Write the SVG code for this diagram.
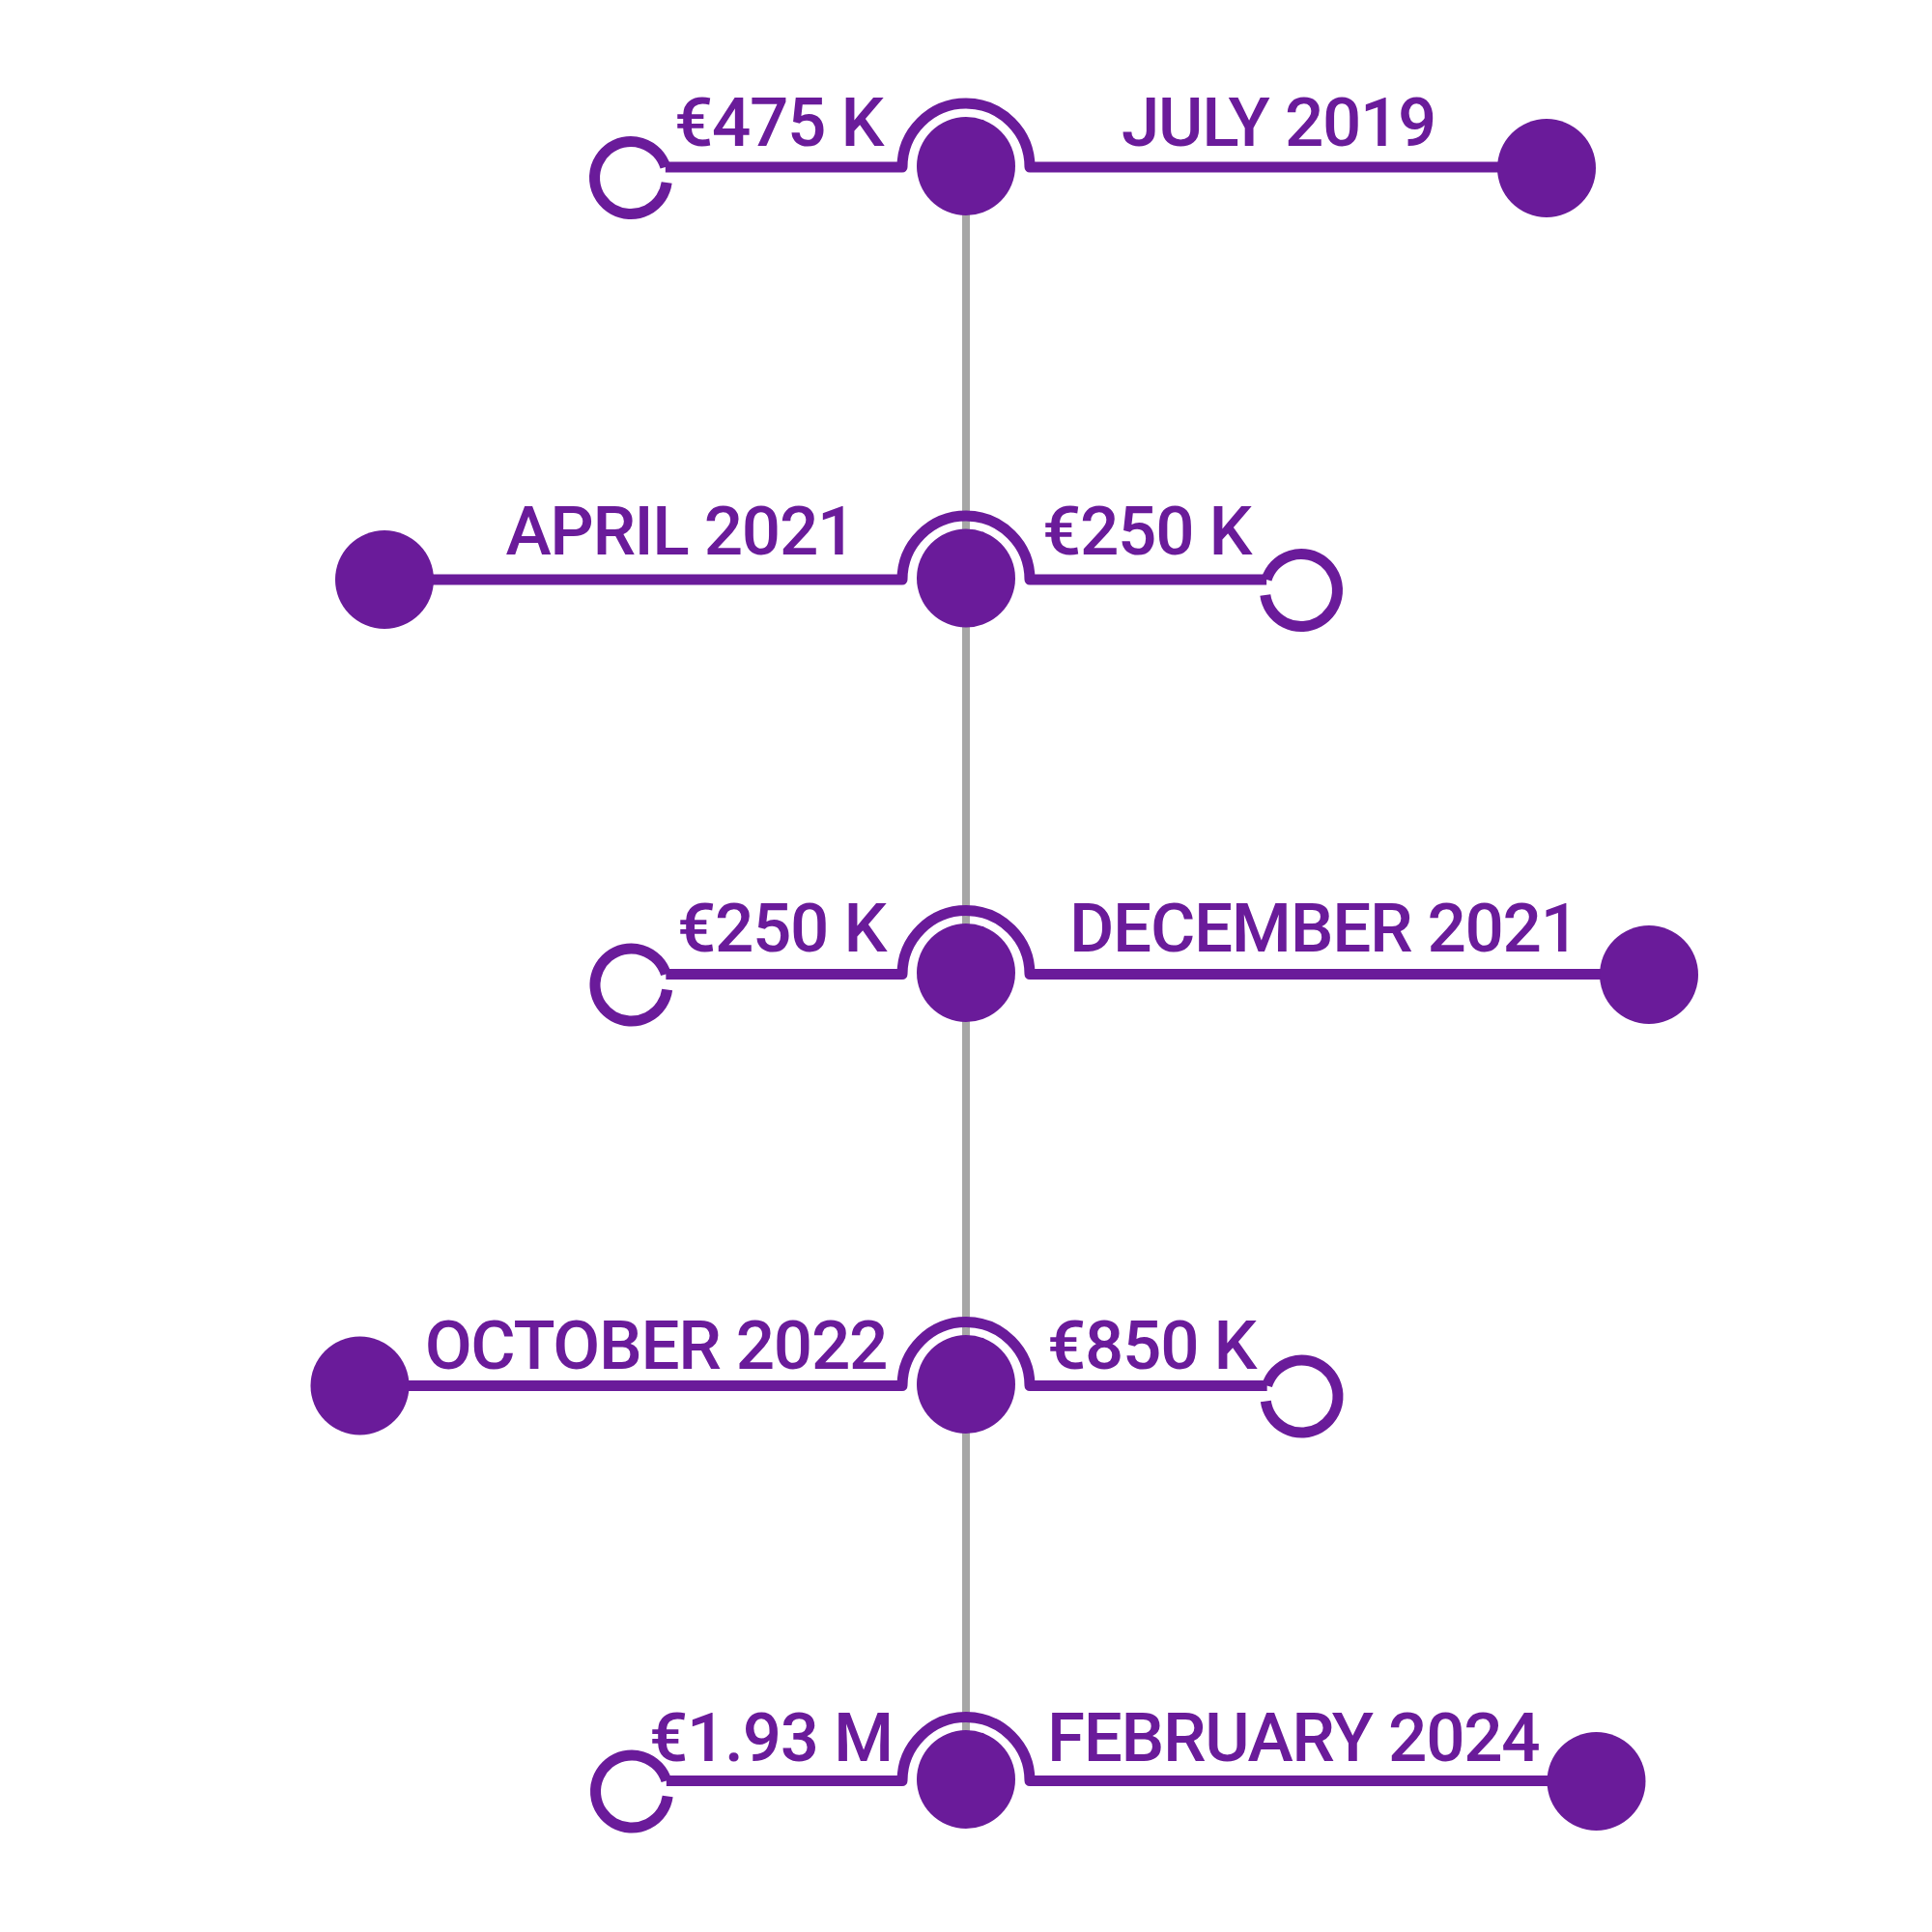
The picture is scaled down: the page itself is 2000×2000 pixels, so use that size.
<svg xmlns="http://www.w3.org/2000/svg" width="2000" height="2000" viewBox="0 0 2000 2000">
<style>
.bg{fill:#ffffff}
.spine{stroke:#a6a6a6;stroke-width:8;fill:none}
.conn{stroke:#6a1b9a;stroke-width:11;fill:none;stroke-linejoin:round;stroke-linecap:butt}
.open{stroke:#6a1b9a;stroke-width:11;fill:none;stroke-linecap:butt}
.dot{fill:#6a1b9a}
.lbl{font-family:"Roboto Medium",Roboto,"Liberation Sans",sans-serif;font-weight:500;font-size:71px;letter-spacing:-1.3px;fill:#6a1b9a}
.l{text-anchor:end}
.r{text-anchor:start}
</style>
<rect class="bg" x="0" y="0" width="2000" height="2000"/>
<g id="connectors">
<line class="spine" x1="1000" y1="172" x2="1000" y2="1842"/>
<path class="conn" d="M 688.85 173 H 934 A 66 66 0 0 1 1066 173 H 1601"/>
<path class="conn" d="M 398 600 H 934 A 66 66 0 0 1 1066 600 H 1311.15"/>
<path class="conn" d="M 689.35 1008.5 H 934 A 66 66 0 0 1 1066 1008.5 H 1707"/>
<path class="conn" d="M 372.5 1434.5 H 934 A 66 66 0 0 1 1066 1434.5 H 1311.65"/>
<path class="conn" d="M 689.85 1843.5 H 934 A 66 66 0 0 1 1066 1843.5 H 1652.5"/>
</g>
<g id="row1">
<circle id="node1" class="dot" cx="1000" cy="172" r="51"/>
<path id="node1-left" class="open" d="M 688.85 173 A 37.5 37.5 0 1 0 690.17 189"/>
<circle id="node1-right" class="dot" cx="1601" cy="174" r="51"/>
<text class="lbl l" x="914" y="151">€475 K</text>
<text class="lbl r" x="1161" y="151">JULY 2019</text>
</g>
<g id="row2">
<circle id="node2" class="dot" cx="1000" cy="598.5" r="51"/>
<circle id="node2-left" class="dot" cx="398" cy="600" r="51"/>
<path id="node2-right" class="open" d="M 1311.15 600 A 37.5 37.5 0 1 1 1309.83 616"/>
<text class="lbl l" x="885" y="574">APRIL 2021</text>
<text class="lbl r" x="1079" y="574">€250 K</text>
</g>
<g id="row3">
<circle id="node3" class="dot" cx="1000" cy="1007" r="51"/>
<path id="node3-left" class="open" d="M 689.35 1008.5 A 37.5 37.5 0 1 0 690.67 1024.5"/>
<circle id="node3-right" class="dot" cx="1707" cy="1009" r="51"/>
<text class="lbl l" x="917" y="985">€250 K</text>
<text class="lbl r" x="1107" y="985">DECEMBER 2021</text>
</g>
<g id="row4">
<circle id="node4" class="dot" cx="1000" cy="1433" r="51"/>
<circle id="node4-left" class="dot" cx="372.5" cy="1434.5" r="51"/>
<path id="node4-right" class="open" d="M 1311.65 1434.5 A 37.5 37.5 0 1 1 1310.33 1450.5"/>
<text class="lbl l" x="918" y="1417">OCTOBER 2022</text>
<text class="lbl r" x="1084" y="1417">€850 K</text>
</g>
<g id="row5">
<circle id="node5" class="dot" cx="1000" cy="1842" r="51"/>
<path id="node5-left" class="open" d="M 689.85 1843.5 A 37.5 37.5 0 1 0 691.17 1859.5"/>
<circle id="node5-right" class="dot" cx="1652.5" cy="1844" r="51"/>
<text class="lbl l" x="924" y="1823">€1.93 M</text>
<text class="lbl r" x="1084" y="1823">FEBRUARY 2024</text>
</g>
</svg>
